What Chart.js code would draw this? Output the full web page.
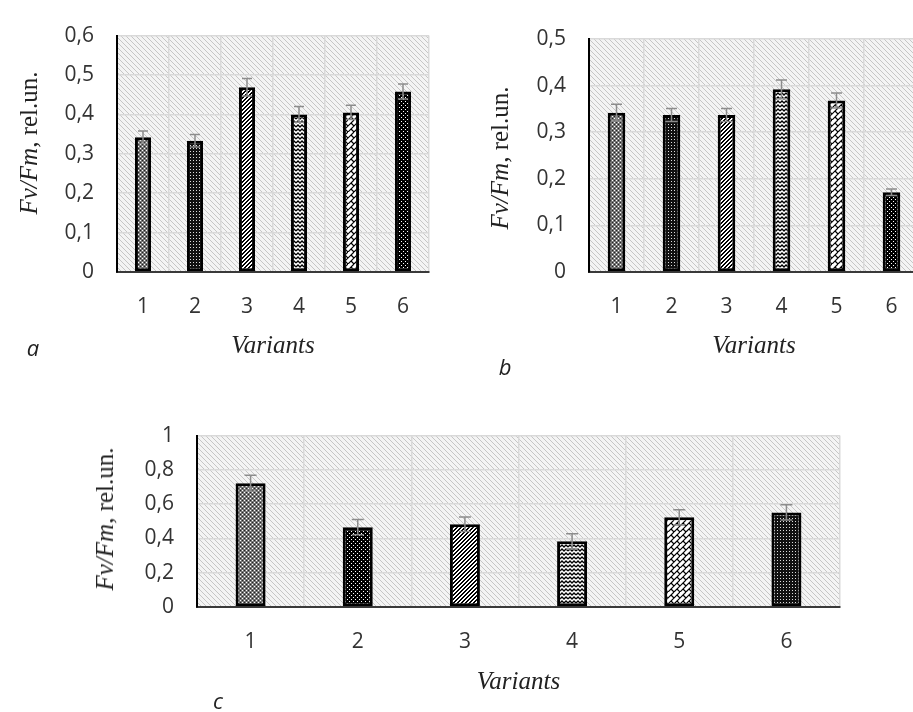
<!DOCTYPE html>
<html>
<head>
<meta charset="utf-8">
<script src="https://cdn.jsdelivr.net/npm/chart.js@4.4.1/dist/chart.umd.min.js"></script>
<style>
  html, body { margin: 0; padding: 0; background: #fff; width: 913px; height: 712px; overflow: hidden; }
  canvas { position: absolute; }
  .ytitle { position: absolute; white-space: nowrap; font: 25px 'Liberation Serif', serif; color: #222;
            transform: translate(-50%, -50%) rotate(-90deg); }
  .panel { position: absolute; font: italic 22px 'Open Sans', sans-serif; color: #222; transform: translate(-50%, -50%); }
</style>
</head>
<body>
<canvas id="chartA" width="440" height="360" style="left:0px;top:0px"></canvas>
<canvas id="chartB" width="470" height="360" style="left:460px;top:0px"></canvas>
<canvas id="chartC" width="770" height="296" style="left:80px;top:400px"></canvas>

<div class="ytitle" style="left:29px;top:143px"><i>Fv/Fm</i>, rel.un.</div>
<div class="ytitle" style="left:500px;top:158px"><i>Fv/Fm</i>, rel.un.</div>
<div class="ytitle" style="left:105px;top:519px"><i>Fv/Fm</i>, rel.un.</div>
<div class="panel" style="left:33px;top:347px">a</div>
<div class="panel" style="left:505px;top:366px">b</div>
<div class="panel" style="left:218px;top:700px">c</div>

<script>
const categories = ['1', '2', '3', '4', '5', '6'];

const valuesA = [0.342, 0.333, 0.469, 0.400, 0.405, 0.458];
const errorsA = [0.016, 0.016, 0.022, 0.020, 0.018, 0.019];
const yTicksA = ['0', '0,1', '0,2', '0,3', '0,4', '0,5', '0,6'];

const valuesB = [0.342, 0.337, 0.337, 0.392, 0.368, 0.171];
const errorsB = [0.018, 0.014, 0.014, 0.020, 0.016, 0.007];
const yTicksB = ['0', '0,1', '0,2', '0,3', '0,4', '0,5'];

const valuesC = [0.722, 0.466, 0.483, 0.383, 0.523, 0.552];
const errorsC = [0.046, 0.045, 0.042, 0.045, 0.044, 0.045];
const yTicksC = ['0', '0,2', '0,4', '0,6', '0,8', '1'];

const xTitle = 'Variants';

// small tiles used as fills
function tile(w, h, draw) {
    const c = document.createElement('canvas');
    c.width = w; c.height = h;
    const g = c.getContext('2d');
    draw(g);
    return g.createPattern(c, 'repeat');
}
function px(g, col, pts) {
    g.fillStyle = col;
    pts.forEach(p => g.fillRect(p[0], p[1], 1, 1));
}

const hatchBg = tile(5, 5, g => {
    g.fillStyle = '#f4f4f4'; g.fillRect(0, 0, 5, 5);
    px(g, '#c6c6c6', [[0, 0], [1, 1], [2, 2], [3, 3], [4, 4]]);
});
const pGray = tile(4, 4, g => {
    g.fillStyle = '#777'; g.fillRect(0, 0, 4, 4);
    px(g, '#fff', [[0, 0], [2, 2]]);
    px(g, '#222', [[2, 0], [0, 2]]);
});
const pDense = tile(3, 3, g => {
    g.fillStyle = '#111'; g.fillRect(0, 0, 3, 3);
    px(g, '#ddd', [[1, 1]]);
});
const pSparse = tile(4, 4, g => {
    g.fillStyle = '#000'; g.fillRect(0, 0, 4, 4);
    px(g, '#fff', [[1, 1], [3, 3]]);
});
const pDiag = tile(4, 4, g => {
    g.fillStyle = '#fff'; g.fillRect(0, 0, 4, 4);
    px(g, '#000', [[0, 3], [1, 3], [1, 2], [2, 2], [2, 1], [3, 1], [3, 0], [0, 0]]);
});
const pZigzag = tile(8, 8, g => {
    g.fillStyle = '#fff'; g.fillRect(0, 0, 8, 8);
    g.strokeStyle = '#000'; g.lineWidth = 1.3;
    [0, 4].forEach(o => {
        g.beginPath();
        g.moveTo(0, o + 3); g.lineTo(2, o + 1); g.lineTo(4, o + 3); g.lineTo(6, o + 1); g.lineTo(8, o + 3);
        g.stroke();
    });
});
const pBrick = tile(12, 12, g => {
    g.fillStyle = '#fff'; g.fillRect(0, 0, 12, 12);
    g.strokeStyle = '#000'; g.lineWidth = 1.2;
    g.beginPath();
    g.moveTo(-6, 12); g.lineTo(6, 0);
    g.moveTo(0, 12); g.lineTo(12, 0);
    g.moveTo(6, 12); g.lineTo(18, 0);
    g.moveTo(3, 3); g.lineTo(6, 6);
    g.moveTo(9, 9); g.lineTo(12, 12);
    g.moveTo(0, 6); g.lineTo(-3, 3);
    g.moveTo(9, -3); g.lineTo(12, 0);
    g.moveTo(9, 3); g.lineTo(12, 6);
    g.moveTo(3, 9); g.lineTo(6, 12);
    g.stroke();
});

const fillsA = [pGray, pDense, pDiag, pZigzag, pBrick, pSparse];
const fillsB = [pGray, pDense, pDiag, pZigzag, pBrick, pSparse];
const fillsC = [pGray, pSparse, pDiag, pZigzag, pBrick, pDense];

const hatchPlugin = {
    id: 'hatch',
    beforeDraw(chart) {
        const a = chart.chartArea, ctx = chart.ctx;
        ctx.save();
        ctx.fillStyle = hatchBg;
        ctx.fillRect(a.left, a.top, a.right - a.left, a.bottom - a.top);
        ctx.restore();
    }
};

const errorPlugin = {
    id: 'errbars',
    afterDatasetsDraw(chart, args, opts) {
        const ctx = chart.ctx, y = chart.scales.y;
        const meta = chart.getDatasetMeta(0);
        const errs = opts.errors;
        ctx.save();
        ctx.strokeStyle = '#8c8c8c';
        ctx.lineWidth = 1.5;
        meta.data.forEach((bar, i) => {
            const v = chart.data.datasets[0].data[i];
            const hi = y.getPixelForValue(v + errs[i]);
            const lo = y.getPixelForValue(v - errs[i]);
            const c = opts.cap;
            ctx.beginPath();
            ctx.moveTo(bar.x, hi); ctx.lineTo(bar.x, lo);
            ctx.moveTo(bar.x - c, hi); ctx.lineTo(bar.x + c, hi);
            ctx.moveTo(bar.x - c, lo); ctx.lineTo(bar.x + c, lo);
            ctx.stroke();
        });
        ctx.restore();
    }
};

function makeChart(id, values, errors, fills, yTicks, yMax, yStep, box) {
    new Chart(document.getElementById(id), {
        type: 'bar',
        data: {
            labels: categories,
            datasets: [{
                data: values,
                backgroundColor: fills,
                borderColor: '#000',
                borderWidth: box.border,
                borderSkipped: false,
                barPercentage: box.barPct,
                categoryPercentage: 1
            }]
        },
        plugins: [hatchPlugin, errorPlugin],
        options: {
            responsive: false,
            animation: false,
            layout: { padding: { top: box.top, right: box.right, left: 0, bottom: 0 } },
            plugins: {
                legend: { display: false },
                tooltip: { enabled: false },
                errbars: { errors: errors, cap: box.cap }
            },
            scales: {
                x: {
                    afterFit: s => { s.height = box.xh; },
                    grid: { color: '#d9d9d9', lineWidth: 1.5, drawTicks: false },
                    border: { color: '#3a3a3a', width: 2 },
                    ticks: { color: '#333', padding: 22, font: { family: 'Open Sans', size: 21 } },
                    title: {
                        display: true,
                        text: xTitle,
                        color: '#222',
                        padding: { top: 0, bottom: 1 },
                        font: { family: 'Liberation Serif', size: 25, style: 'italic', lineHeight: 1 }
                    }
                },
                y: {
                    min: 0,
                    max: yMax,
                    afterFit: s => { s.width = box.yw; },
                    grid: { color: '#d9d9d9', lineWidth: 1.5, drawTicks: false },
                    border: { color: '#000', width: 2 },
                    ticks: {
                        stepSize: yStep,
                        color: '#333',
                        padding: 23,
                        font: { family: 'Open Sans', size: 21 },
                        callback: (v, i) => yTicks[i]
                    }
                }
            }
        }
    });
}

makeChart('chartA', valuesA, errorsA, fillsA, yTicksA, 0.6, 0.1,
    { top: 23, right: 11, yw: 117, xh: 88, barPct: 0.31, border: 3, cap: 5 });
makeChart('chartB', valuesB, errorsB, fillsB, yTicksB, 0.5, 0.1,
    { top: 39, right: 11, yw: 129, xh: 88, barPct: 0.32, border: 3, cap: 5.5 });
makeChart('chartC', valuesC, errorsC, fillsC, yTicksC, 1, 0.2,
    { top: 26, right: 10, yw: 117, xh: 89, barPct: 0.28, border: 3, cap: 6 });
</script>
</body>
</html>
